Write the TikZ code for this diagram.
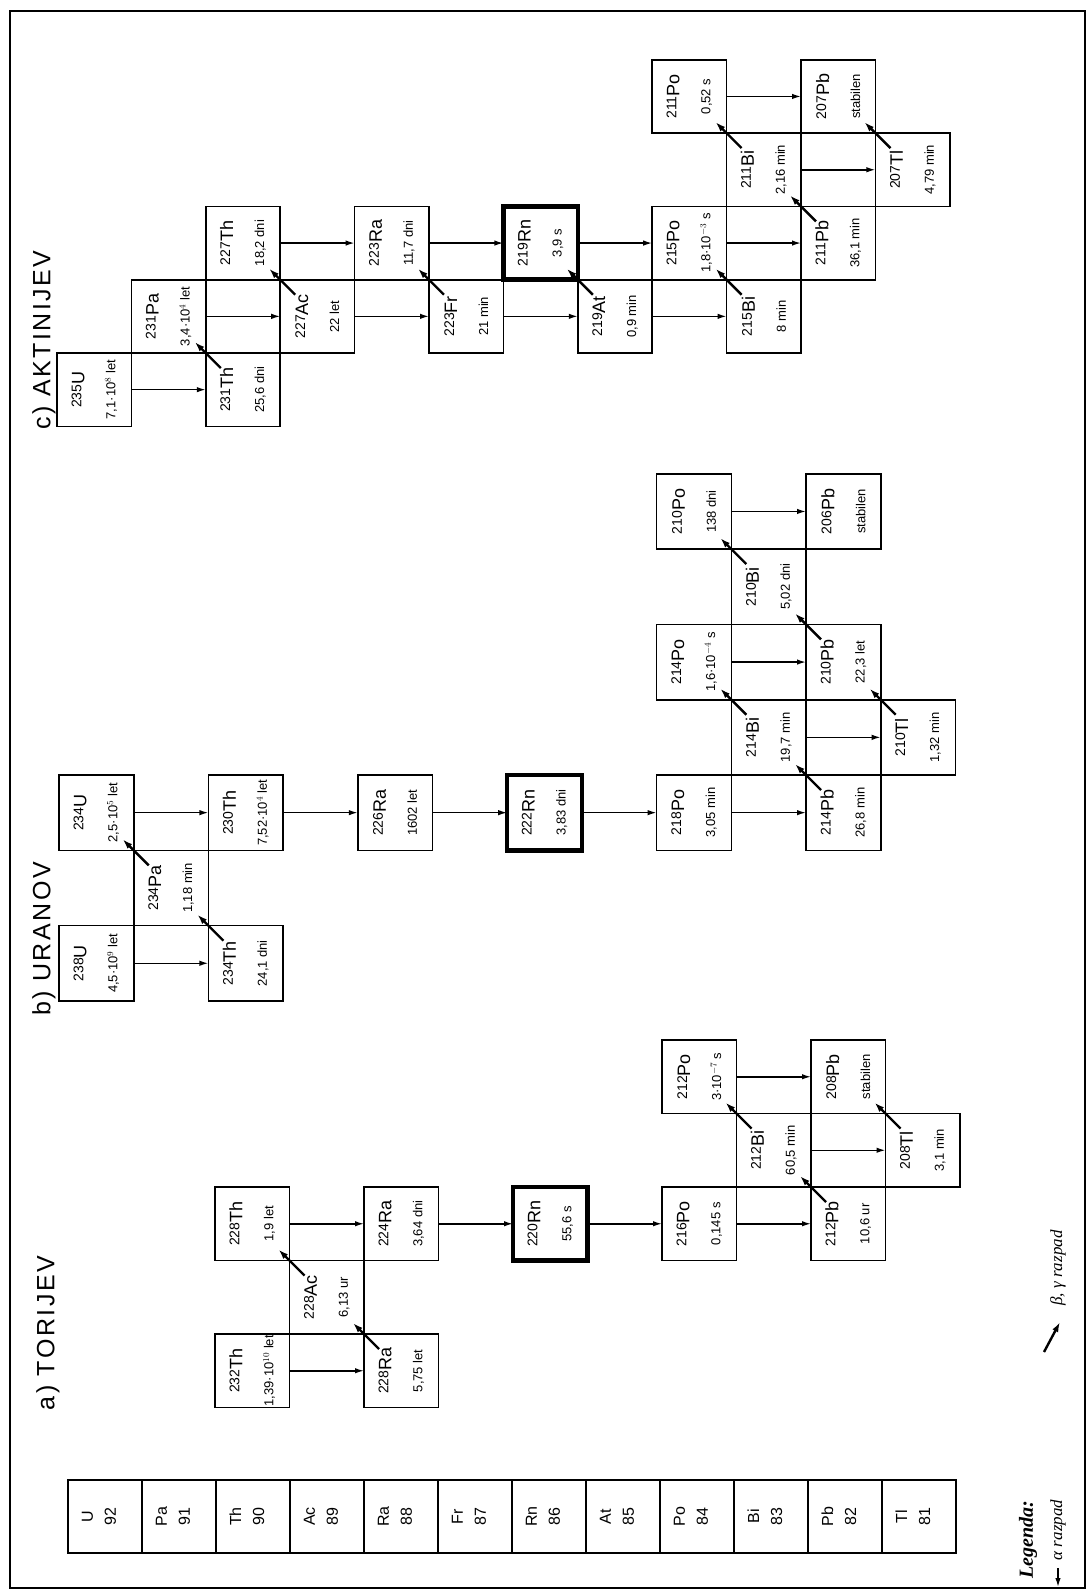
\documentclass[tikz,border=0pt]{standalone}
\usepackage{fontspec}
\setmainfont{Liberation Sans}
\newfontfamily\legfont{Liberation Serif}
\newfontfamily\titlefont{Liberation Sans}[LetterSpace=10]
\usetikzlibrary{arrows.meta,calc}
\newcommand\iso[3]{{\fontsize{14}{16}\selectfont\raisebox{3pt}{#1}}{\fontsize{18}{20}\selectfont #2}\\[16pt]{#3}}
\tikzset{
  cell/.style={draw, line width=1.6pt, rectangle, rotate=90, inner sep=0pt, outer sep=0pt,
    align=center, font=\fontsize{13}{15}\selectfont},
  thick cell/.style={cell, line width=4.5pt},
  adecay/.style={line width=1.5pt, -{Latex[length=9pt,width=5.5pt]}},
  bdecay/.style={line width=2.4pt, -{Latex[length=10pt,width=6.5pt]}},
  elem/.style={draw, line width=1.6pt, rectangle, inner sep=0pt, outer sep=0pt,
    minimum width=74pt, minimum height=73pt},
  elemtxt/.style={rotate=90, align=center, inner sep=0pt, font=\fontsize{16}{23}\selectfont},
  ttl/.style={rotate=90, inner sep=0pt, font=\titlefont\fontsize{25}{25}\selectfont},
}
% chain placement macros: [style] name, col, row, text
\newcommand\thnode[5][cell]{\node[#1, minimum width=73.5pt, minimum height=74.5pt] (#2) at ({66+74.5*(#3)+37.25},{1187+73.5*(#4)+36.75}) {#5};}
\newcommand\urnode[5][cell]{\node[#1, minimum width=75.3pt, minimum height=74.7pt] (#2) at ({59+74.7*(#3)+37.35},{775+75.3*(#4)+37.65}) {#5};}
\newcommand\acnode[5][cell]{\node[#1, minimum width=73.3pt, minimum height=74.4pt] (#2) at ({57+74.4*(#3)+37.2},{353+73.3*(#4)+36.65}) {#5};}
\newcommand\bdec[2]{\draw[bdecay] ([shift={(15,15)}]#1.north east) -- ([shift={(-11,-11)}]#2.south west);}
\newcommand\adec[2]{\draw[adecay] (#1.south) -- (#2.north);}
\begin{document}
\begin{tikzpicture}[x=1pt,y=-1pt]
\useasboundingbox (0,0) rectangle (1089,1591);
\draw[line width=2pt] (10,11) rectangle (1085,1588);

% titles
\node[ttl] (ta) at (48,1333) {a) TORIJEV};
\node[ttl] (tb) at (44,939) {b) URANOV};
\node[ttl] (tc) at (44,340) {c) AKTINIJEV};

% ---------- a) thorium chain
\thnode{Th232}{2}{2}{\iso{232}{Th}{1,39·10$^{10}$ let}}
\thnode{Ra228}{4}{2}{\iso{228}{Ra}{5,75 let}}
\thnode{Ac228}{3}{1}{\iso{228}{Ac}{6,13 ur}}
\thnode{Th228}{2}{0}{\iso{228}{Th}{1,9 let}}
\thnode{Ra224}{4}{0}{\iso{224}{Ra}{3,64 dni}}
\thnode[thick cell]{Rn220}{6}{0}{\iso{220}{Rn}{55,6 s}}
\thnode{Po216}{8}{0}{\iso{216}{Po}{0,145 s}}
\thnode{Pb212}{10}{0}{\iso{212}{Pb}{10,6 ur}}
\thnode{Bi212}{9}{-1}{\iso{212}{Bi}{60,5 min}}
\thnode{Po212}{8}{-2}{\iso{212}{Po}{3·10$^{-7}$ s}}
\thnode{Tl208}{11}{-1}{\iso{208}{Tl}{3,1 min}}
\thnode{Pb208}{10}{-2}{\iso{208}{Pb}{stabilen}}
\adec{Th232}{Ra228}
\adec{Th228}{Ra224}
\adec{Ra224}{Rn220}
\adec{Rn220}{Po216}
\adec{Po216}{Pb212}
\adec{Bi212}{Tl208}
\adec{Po212}{Pb208}
\bdec{Ra228}{Ac228}
\bdec{Ac228}{Th228}
\bdec{Pb212}{Bi212}
\bdec{Bi212}{Po212}
\bdec{Tl208}{Pb208}

% ---------- b) uranium chain
\urnode{U238}{0}{2}{\iso{238}{U}{4,5·10$^{9}$ let}}
\urnode{Th234}{2}{2}{\iso{234}{Th}{24,1 dni}}
\urnode{Pa234}{1}{1}{\iso{234}{Pa}{1,18 min}}
\urnode{U234}{0}{0}{\iso{234}{U}{2,5·10$^{5}$ let}}
\urnode{Th230}{2}{0}{\iso{230}{Th}{7,52·10$^{4}$ let}}
\urnode{Ra226}{4}{0}{\iso{226}{Ra}{1602 let}}
\urnode[thick cell]{Rn222}{6}{0}{\iso{222}{Rn}{3,83 dni}}
\urnode{Po218}{8}{0}{\iso{218}{Po}{3,05 min}}
\urnode{Pb214}{10}{0}{\iso{214}{Pb}{26,8 min}}
\urnode{Bi214}{9}{-1}{\iso{214}{Bi}{19,7 min}}
\urnode{Po214}{8}{-2}{\iso{214}{Po}{1,6·10$^{-4}$ s}}
\urnode{Tl210}{11}{-1}{\iso{210}{Tl}{1,32 min}}
\urnode{Pb210}{10}{-2}{\iso{210}{Pb}{22,3 let}}
\urnode{Bi210}{9}{-3}{\iso{210}{Bi}{5,02 dni}}
\urnode{Po210}{8}{-4}{\iso{210}{Po}{138 dni}}
\urnode{Pb206}{10}{-4}{\iso{206}{Pb}{stabilen}}
\adec{U238}{Th234}
\adec{U234}{Th230}
\adec{Th230}{Ra226}
\adec{Ra226}{Rn222}
\adec{Rn222}{Po218}
\adec{Po218}{Pb214}
\adec{Bi214}{Tl210}
\adec{Po214}{Pb210}
\adec{Po210}{Pb206}
\bdec{Th234}{Pa234}
\bdec{Pa234}{U234}
\bdec{Pb214}{Bi214}
\bdec{Bi214}{Po214}
\bdec{Tl210}{Pb210}
\bdec{Pb210}{Bi210}
\bdec{Bi210}{Po210}

% ---------- c) actinium chain
\acnode{U235}{0}{0}{\iso{235}{U}{7,1·10$^{8}$ let}}
\acnode{Th231}{2}{0}{\iso{231}{Th}{25,6 dni}}
\acnode{Pa231}{1}{-1}{\iso{231}{Pa}{3,4·10$^{4}$ let}}
\acnode{Th227}{2}{-2}{\iso{227}{Th}{18,2 dni}}
\acnode{Ac227}{3}{-1}{\iso{227}{Ac}{22 let}}
\acnode{Ra223}{4}{-2}{\iso{223}{Ra}{11,7 dni}}
\acnode{Fr223}{5}{-1}{\iso{223}{Fr}{21 min}}
\acnode[thick cell]{Rn219}{6}{-2}{\iso{219}{Rn}{3,9 s}}
\acnode{At219}{7}{-1}{\iso{219}{At}{0,9 min}}
\acnode{Po215}{8}{-2}{\iso{215}{Po}{1,8·10$^{-3}$ s}}
\acnode{Bi215}{9}{-1}{\iso{215}{Bi}{8 min}}
\acnode{Pb211}{10}{-2}{\iso{211}{Pb}{36,1 min}}
\acnode{Bi211}{9}{-3}{\iso{211}{Bi}{2,16 min}}
\acnode{Po211}{8}{-4}{\iso{211}{Po}{0,52 s}}
\acnode{Tl207}{11}{-3}{\iso{207}{Tl}{4,79 min}}
\acnode{Pb207}{10}{-4}{\iso{207}{Pb}{stabilen}}
\adec{U235}{Th231}
\adec{Pa231}{Ac227}
\adec{Th227}{Ra223}
\adec{Ac227}{Fr223}
\adec{Ra223}{Rn219}
\adec{Fr223}{At219}
\adec{Rn219}{Po215}
\adec{At219}{Bi215}
\adec{Po215}{Pb211}
\adec{Bi211}{Tl207}
\adec{Po211}{Pb207}
\bdec{Th231}{Pa231}
\bdec{Ac227}{Th227}
\bdec{Fr223}{Ra223}
\bdec{At219}{Rn219}
\bdec{Bi215}{Po215}
\bdec{Pb211}{Bi211}
\bdec{Bi211}{Po211}
\bdec{Tl207}{Pb207}

% ---------- element strip
\foreach \s/\z [count=\i from 0] in {U/92,Pa/91,Th/90,Ac/89,Ra/88,Fr/87,Rn/86,At/85,Po/84,Bi/83,Pb/82,Tl/81}{
  \node[elem] (el\i) at ({68+74*\i+37},1516.5) {};
  \node[elemtxt] (elt\i) at ($(el\i.center)+(-6,0)$) {\s\\\z};
}

% ---------- legend
\node[rotate=90, inner sep=0pt, font=\legfont\bfseries\itshape\fontsize{20}{20}\selectfont] (leg) at (1028,1540) {Legenda:};
\node[rotate=90, inner sep=0pt, font=\legfont\itshape\fontsize{17}{17}\selectfont] (lega) at (1058,1530) {α razpad};
\node[rotate=90, inner sep=0pt, font=\legfont\itshape\fontsize{17}{17}\selectfont] (legb) at (1058,1268) {β, γ razpad};
\coordinate (la1) at (1058,1568);
\coordinate (la2) at (1058,1587);
\draw[adecay] (la1) -- (la2);
\coordinate (lb1) at (1044,1352);
\coordinate (lb2) at (1060,1322);
\draw[bdecay] (lb1) -- (lb2);
\end{tikzpicture}
\end{document}
